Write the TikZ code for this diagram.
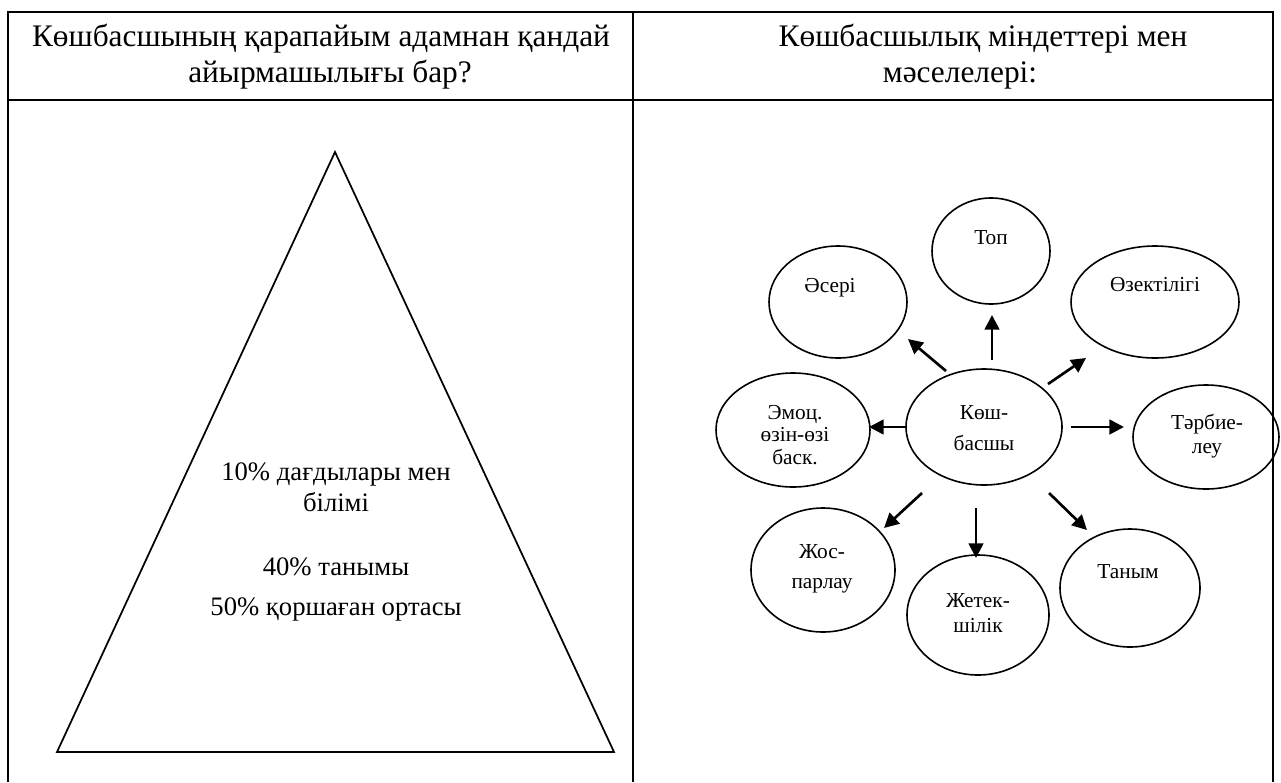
\documentclass[tikz,border=0pt]{standalone}
\usepackage{fontspec}
\setmainfont{Liberation Serif}
\usetikzlibrary{shapes.geometric,arrows.meta}
\begin{document}
\begin{tikzpicture}[x=0.75pt,y=-0.75pt,
  frame/.style={line width=1.3pt},
  tri/.style={line width=1.3pt,line join=miter},
  ell/.style={ellipse,draw,line width=1.2pt,inner sep=0pt,outer sep=0pt},
  arr/.style={line width=2pt,-{Triangle[length=11pt,width=11pt]}},
  head/.style={anchor=base,inner sep=0pt,font=\fontsize{23.5}{28}\selectfont},
  ttxt/.style={anchor=base,inner sep=0pt,font=\fontsize{20}{24}\selectfont},
  etxt/.style={anchor=base,inner sep=0pt,font=\fontsize{16}{19}\selectfont}]
\useasboundingbox (0,0) rectangle (1281,782);
\fill[white] (0,0) rectangle (1281,782);
% table
\coordinate (tl) at (8,12); \coordinate (tm) at (633,12); \coordinate (tr) at (1273,12);
\coordinate (bl) at (8,782); \coordinate (bm) at (633,782); \coordinate (br) at (1273,782);
\coordinate (hl) at (8,100); \coordinate (hr) at (1273,100);
\draw[frame] (bl) -- (tl) -- (tr) -- (br);
\draw[frame] (tm) -- (bm);
\draw[frame] (hl) -- (hr);
% headers
\node[head] (h1) at (321,46) {Көшбасшының қарапайым адамнан қандай};
\node[head] (h2) at (330,82) {айырмашылығы бар?};
\node[head] (h3) at (983,46) {Көшбасшылық міндеттері мен};
\node[head] (h4) at (960,82) {мәселелері:};
% triangle
\coordinate (apex) at (335,152);
\coordinate (bleft) at (57,752);
\coordinate (bright) at (614,752);
\draw[tri] (apex) -- (bright) -- (bleft) -- cycle;
\node[ttxt] (t1) at (336,480) {10\% дағдылары мен};
\node[ttxt] (t2) at (336,511) {білімі};
\node[ttxt] (t3) at (336,575) {40\% танымы};
\node[ttxt] (t4) at (336,615) {50\% қоршаған ортасы};
% ellipses
\node[ell,minimum width=88.5pt,minimum height=79.5pt] (top) at (991,251) {};
\node[ell,minimum width=103.5pt,minimum height=84pt] (aseri) at (838,302) {};
\node[ell,minimum width=126pt,minimum height=84pt] (ozek) at (1155,302) {};
\node[ell,minimum width=117pt,minimum height=87pt] (kosh) at (984,427) {};
\node[ell,minimum width=115.5pt,minimum height=85.5pt] (emoc) at (793,430) {};
\node[ell,minimum width=109.5pt,minimum height=78pt] (tarb) at (1206,437) {};
\node[ell,minimum width=108pt,minimum height=93pt] (josp) at (823,570) {};
\node[ell,minimum width=106.5pt,minimum height=90pt] (jetek) at (978,615) {};
\node[ell,minimum width=105pt,minimum height=88.5pt] (tanym) at (1130,588) {};
% ellipse texts
\node[etxt] (l1) at (991,244) {Топ};
\node[etxt] (l2) at (830,292) {Әсері};
\node[etxt] (l3) at (1155,291) {Өзектілігі};
\node[etxt] (l4a) at (984,419) {Көш-};
\node[etxt] (l4b) at (984,450) {басшы};
\node[etxt] (l5a) at (795,419) {Эмоц.};
\node[etxt] (l5b) at (795,441) {өзін-өзі};
\node[etxt] (l5c) at (795,464) {баск.};
\node[etxt] (l6a) at (1207,429) {Тәрбие-};
\node[etxt] (l6b) at (1207,453) {леу};
\node[etxt] (l7a) at (822,558) {Жос-};
\node[etxt] (l7b) at (822,588) {парлау};
\node[etxt] (l8a) at (978,607) {Жетек-};
\node[etxt] (l8b) at (978,632) {шілік};
\node[etxt] (l9) at (1128,578) {Таным};
% arrow ends
\coordinate (a1s) at (992,360); \coordinate (a1e) at (992,315);
\coordinate (a2s) at (946,371); \coordinate (a2e) at (908,339);
\coordinate (a3s) at (1048,384); \coordinate (a3e) at (1086,358);
\coordinate (a4s) at (1071,427); \coordinate (a4e) at (1124,427);
\coordinate (a5s) at (907,427); \coordinate (a5e) at (869,427);
\coordinate (a6s) at (922,493); \coordinate (a6e) at (884,528);
\coordinate (a7s) at (976,508); \coordinate (a7e) at (976,558);
\coordinate (a8s) at (1049,493); \coordinate (a8e) at (1087,530);
\draw[arr] (a1s) -- (a1e);
\draw[arr] (a2s) -- (a2e);
\draw[arr] (a3s) -- (a3e);
\draw[arr] (a4s) -- (a4e);
\draw[arr] (a5s) -- (a5e);
\draw[arr] (a6s) -- (a6e);
\draw[arr] (a7s) -- (a7e);
\draw[arr] (a8s) -- (a8e);
\end{tikzpicture}
\end{document}
